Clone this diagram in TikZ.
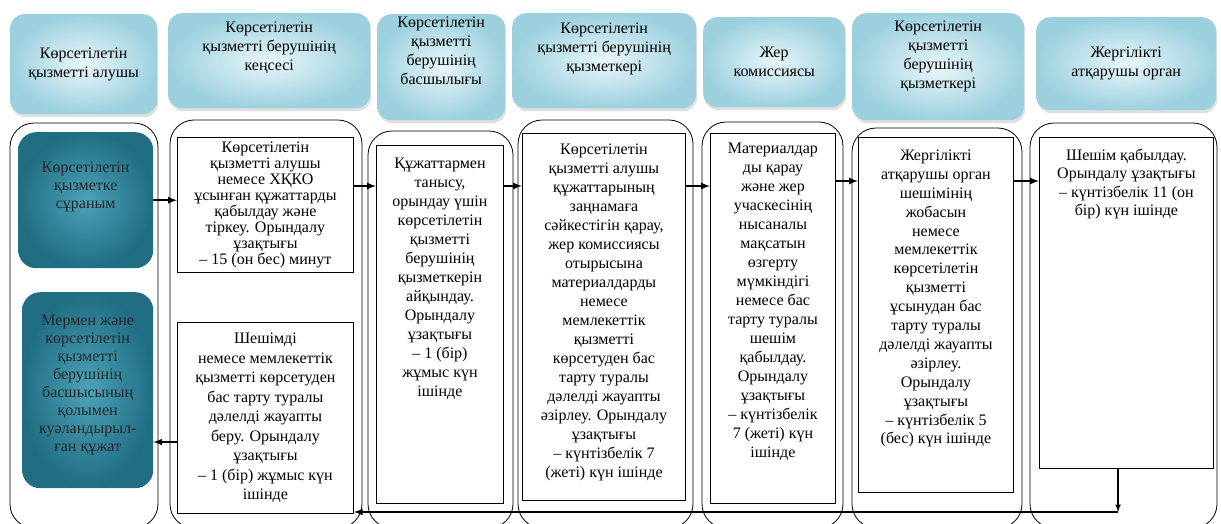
\documentclass[tikz,border=0pt]{standalone}
\usepackage{fontspec}
\setmainfont{Liberation Serif}
\usepackage{xcolor}
\usepackage{tikz}
\usetikzlibrary{shapes, arrows, positioning, calc, shadows}

\definecolor{headin}{HTML}{E9F6FA}
\definecolor{headout}{HTML}{9CD0DE}
\definecolor{tealin}{HTML}{4BA2B8}
\definecolor{tealout}{HTML}{216E84}

\begin{document}
\begin{tikzpicture}[x=1pt, y=-1pt, font=\fontsize{16}{19}\selectfont,
    head/.style={rectangle, rounded corners=14pt, shading=radial, inner color=headin, outer color=headout, drop shadow={opacity=0.25, shadow xshift=1pt, shadow yshift=-3pt}, align=center, anchor=north west, inner sep=0pt},
    lane/.style={draw, rounded corners=24pt, line width=0.8pt},
    req/.style={rectangle, rounded corners=18pt, shading=radial, inner color=tealin, outer color=tealout, align=center, anchor=north west, inner sep=0pt, text=black!85},
    stepbox/.style={rectangle, draw, line width=0.9pt, fill=white, align=center, anchor=north west, inner sep=0pt},
    flow/.style={-latex, line width=2pt}]
    \useasboundingbox (0,0) rectangle (1221,523);
    \clip (0,0) rectangle (1221,523);

    % lanes
    \draw[lane] (10,123) rectangle (158,528);
    \draw[lane] (170,120) rectangle (362,528);
    \draw[lane] (368,131) rectangle (513,528);
    \draw[lane] (518,120) rectangle (693,528);
    \draw[lane] (702,122) rectangle (843,528);
    \draw[lane] (852,128) rectangle (1022,528);
    \draw[lane] (1030,123) rectangle (1217,528);

    % headers
    \node[head, minimum width=147pt, minimum height=100pt] (h1) at (10,14) {Көрсетілетін\\қызметті алушы};
    \node[head, minimum width=202pt, minimum height=95pt, text depth=30pt] (h2) at (168,13) {Көрсетілетін\\қызметті берушінің\\кеңсесі};
    \node[head, minimum width=128pt, minimum height=106pt, text depth=34pt] (h3) at (377,14) {Көрсетілетін\\қызметті\\берушінің\\басшылығы};
    \node[head, minimum width=184pt, minimum height=95pt, text depth=28pt] (h4) at (512,13) {Көрсетілетін\\қызметті берушінің\\қызметкері};
    \node[head, minimum width=142pt, minimum height=90pt] (h5) at (703,17) {Жер\\комиссиясы};
    \node[head, minimum width=172pt, minimum height=107pt, text depth=24pt] (h6) at (852,13) {Көрсетілетін\\қызметті\\берушінің\\қызметкері};
    \node[head, minimum width=180pt, minimum height=93pt] (h7) at (1036,17) {Жергілікті\\атқарушы орган};

    % client side
    \node[req, minimum width=135pt, font=\fontsize{16}{18}\selectfont, text height=76pt, text depth=60pt] (t1) at (18,132) {Көрсетілетін\\қызметке\\сұраным};
    \node[req, minimum width=131pt, font=\fontsize{16}{18}\selectfont, text height=159pt, text depth=37pt] (t2) at (22,292) {Мермен және\\көрсетілетін\\қызметті\\берушінің\\басшысының\\қолымен\\куәландырыл-\\ған құжат};

    % steps
    \node[stepbox, minimum width=176pt, minimum height=135pt, font=\fontsize{16}{16}\selectfont] (a) at (177,137) {Көрсетілетін\\қызметті алушы\\немесе ХҚКО\\ұсынған құжаттарды\\қабылдау және\\тіркеу. Орындалу\\ұзақтығы\\– 15 (он бес) минут};
    \node[stepbox, minimum width=176pt, minimum height=191pt, font=\fontsize{16}{19.5}\selectfont] (b) at (177,322) {Шешімді\\немесе мемлекеттік\\қызметті  көрсетуден\\бас тарту туралы\\дәлелді жауапты\\беру. Орындалу\\ұзақтығы\\– 1 (бір) жұмыс күн\\ішінде};
    \node[stepbox, minimum width=127pt, text height=251pt, text depth=107pt] (c) at (376,145) {Құжаттармен\\танысу,\\орындау үшін\\көрсетілетін\\қызметті\\берушінің\\қызметкерін\\айқындау.\\Орындалу\\ұзақтығы\\– 1 (бір)\\жұмыс күн\\ішінде};
    \node[stepbox, minimum width=163pt, text height=344pt, text depth=23pt] (d) at (522,133) {Көрсетілетін\\қызметті алушы\\құжаттарының\\заңнамаға\\сәйкестігін қарау,\\жер комиссиясы\\отырысына\\материалдарды\\немесе\\мемлекеттік\\қызметті\\көрсетуден бас\\тарту туралы\\дәлелді жауапты\\әзірлеу.  Орындалу\\ұзақтығы\\– күнтізбелік 7\\(жеті) күн ішінде};
    \node[stepbox, minimum width=125pt, text height=324pt, text depth=46pt] (e) at (710,133) {Материалдар\\ды қарау\\және жер\\учаскесінің\\нысаналы\\мақсатын\\өзгерту\\мүмкіндігі\\немесе бас\\тарту туралы\\шешім\\қабылдау.\\Орындалу\\ұзақтығы\\– күнтізбелік\\7 (жеті) күн\\ішінде};
    \node[stepbox, minimum width=155pt, font=\fontsize{16}{18.9}\selectfont, text height=306.5pt, text depth=48.5pt] (f) at (858,137) {Жергілікті\\атқарушы орган\\шешімінің\\жобасын\\немесе\\мемлекеттік\\көрсетілетін\\қызметті\\ұсынудан бас\\тарту туралы\\дәлелді жауапты\\әзірлеу.\\Орындалу\\ұзақтығы\\–  күнтізбелік 5\\(бес) күн ішінде};
    \node[stepbox, minimum width=174pt, font=\fontsize{16}{18.3}\selectfont, text height=78pt, text depth=253pt] (g) at (1039,137) {Шешім қабылдау.\\Орындалу ұзақтығы\\– күнтізбелік 11 (он\\бір) күн ішінде};

    % connectors
    \coordinate (row1) at (0,186);
    \coordinate (row2) at (0,181);
    \coordinate (row3) at (0,442);
    \coordinate (back) at (1118,512);
    \draw[flow] (t1.east) -- (t1.east -| a.west);
    \draw[flow] (a.east |- row1) -- (c.west |- row1);
    \draw[flow] (c.east |- row1) -- (d.west |- row1);
    \draw[flow] (d.east |- row1) -- (e.west |- row1);
    \draw[flow] (e.east |- row2) -- (f.west |- row2);
    \draw[flow] (f.east |- row2) -- (g.west |- row2);
    \draw[-latex, line width=1.5pt] (g.south -| back) -- (back);
    \draw[flow] (back) -- (back -| b.east);
    \draw[flow] (b.west |- row3) -- (t2.east |- row3);
\end{tikzpicture}
\end{document}
